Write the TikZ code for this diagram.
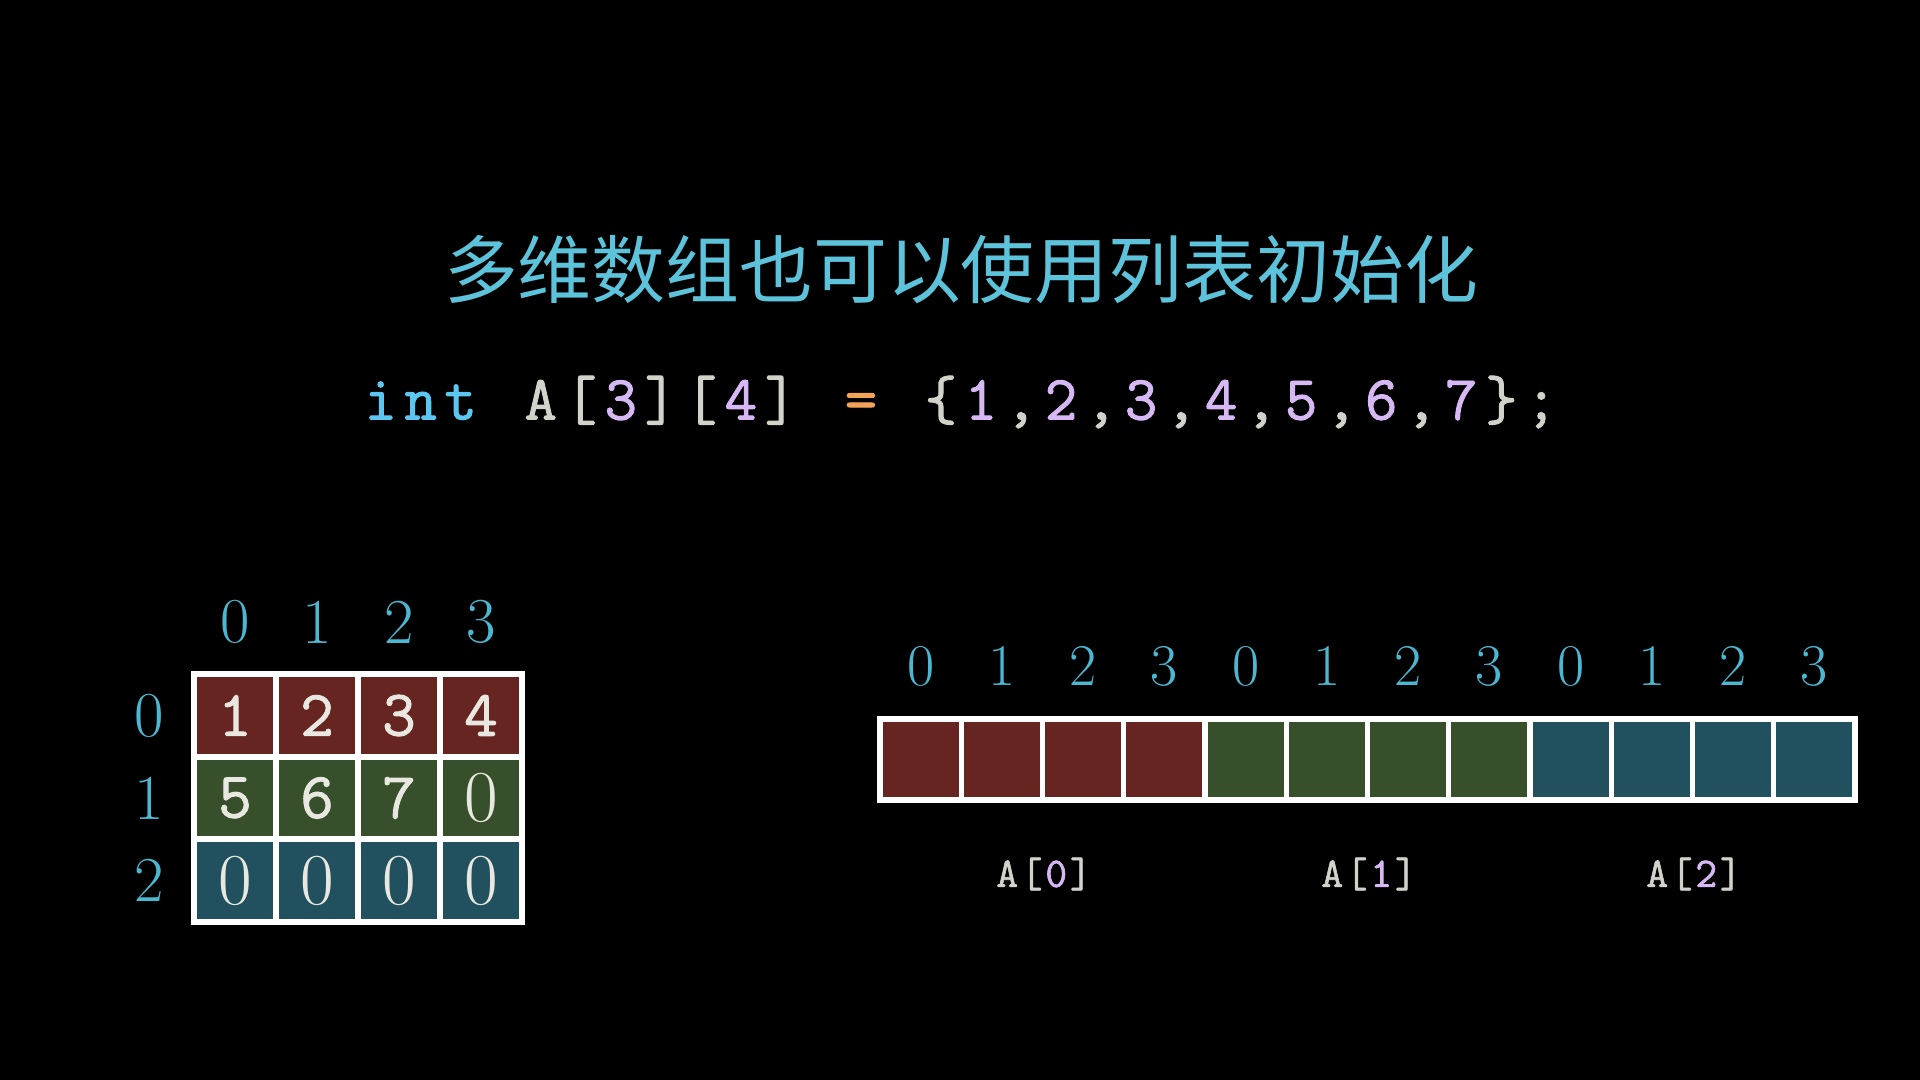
\documentclass[tikz,border=0pt]{standalone}
\usepackage{fontspec}
\newfontfamily\cjk{Noto Sans CJK SC}
\newfontfamily\codefont{Latin Modern Mono}[FakeBold=1.5]
\definecolor{cred}{HTML}{662521}
\definecolor{cgreen}{HTML}{37502B}
\definecolor{cteal}{HTML}{21505E}
\definecolor{clbl}{HTML}{4BB8D2}
\definecolor{ctitle}{HTML}{5CC3DA}
\definecolor{cint}{HTML}{5BC6F2}
\definecolor{cgrey}{HTML}{D2D2CA}
\definecolor{cnum}{HTML}{D6B8F4}
\definecolor{corange}{HTML}{F2A35A}
\definecolor{cwhite}{HTML}{E8E8E0}
% one monospaced character in a fixed-width box
\newcommand\codech[2]{\makebox[0.40cm]{\textcolor{#1}{#2}}}
\newcommand\lblch[2]{\makebox[0.245cm]{\textcolor{#1}{#2}}}
\tikzset{
  gridcell/.style={draw=white, line width=1.7pt, inner sep=0pt,
    minimum width=0.82cm, minimum height=0.825cm, text=cwhite},
  arrcell/.style={draw=white, line width=1.5pt, inner sep=0pt,
    minimum width=0.8125cm, minimum height=0.81cm},
  idxbig/.style={text=clbl, inner sep=0pt, font=\fontsize{18.2}{20}\selectfont},
  idxsmall/.style={text=clbl, inner sep=0pt, font=\fontsize{16.8}{19}\selectfont},
  monodigit/.style={font=\codefont\fontsize{18.5}{20}\selectfont},
  serifzero/.style={font=\fontsize{20.8}{22}\selectfont},
  rowlbl/.style={inner sep=0pt, font=\codefont\fontsize{12}{14}\selectfont}
}
\begin{document}
\begin{tikzpicture}[x=0.01cm,y=-0.01cm]
\fill[black] (0,0) rectangle (1920,1080);
\useasboundingbox (0,0) rectangle (1920,1080);

% title
\node[text=ctitle, inner sep=0pt] (title) at (961,270)
  {\cjk\fontsize{21}{24}\selectfont 多维数组也可以使用列表初始化};

% code line
\node[inner sep=0pt] (code) at (961,402) {\codefont\fontsize{17.9}{20}\selectfont
  \codech{cint}{i}\codech{cint}{n}\codech{cint}{t}\codech{cgrey}{ }%
  \codech{cgrey}{A}\codech{cgrey}{[}\codech{cnum}{3}\codech{cgrey}{]}%
  \codech{cgrey}{[}\codech{cnum}{4}\codech{cgrey}{]}\codech{cgrey}{ }%
  \codech{corange}{=}\codech{cgrey}{ }\codech{cgrey}{\{}%
  \codech{cnum}{1}\codech{cgrey}{,}\codech{cnum}{2}\codech{cgrey}{,}%
  \codech{cnum}{3}\codech{cgrey}{,}\codech{cnum}{4}\codech{cgrey}{,}%
  \codech{cnum}{5}\codech{cgrey}{,}\codech{cnum}{6}\codech{cgrey}{,}%
  \codech{cnum}{7}\codech{cgrey}{\}}\codech{cgrey}{;}};

% left grid
\node[gridcell, fill=cred, monodigit] (g00) at (235,715.5) {1};
\node[gridcell, fill=cred, monodigit] (g01) at (317,715.5) {2};
\node[gridcell, fill=cred, monodigit] (g02) at (399,715.5) {3};
\node[gridcell, fill=cred, monodigit] (g03) at (481,715.5) {4};
\node[gridcell, fill=cgreen, monodigit] (g10) at (235,798) {5};
\node[gridcell, fill=cgreen, monodigit] (g11) at (317,798) {6};
\node[gridcell, fill=cgreen, monodigit] (g12) at (399,798) {7};
\node[gridcell, fill=cgreen, serifzero] (g13) at (481,798) {0};
\node[gridcell, fill=cteal, serifzero] (g20) at (235,880.5) {0};
\node[gridcell, fill=cteal, serifzero] (g21) at (317,880.5) {0};
\node[gridcell, fill=cteal, serifzero] (g22) at (399,880.5) {0};
\node[gridcell, fill=cteal, serifzero] (g23) at (481,880.5) {0};

% left grid indices
\foreach \i in {0,1,2,3} {
  \node[idxbig] (gc\i) at (235+82*\i,622) {\i};
}
\foreach \j in {0,1,2} {
  \node[idxbig] (gr\j) at (149,715.5+82.5*\j) {\j};
}

% right array
\foreach \k/\c in {0/cred,1/cred,2/cred,3/cred,4/cgreen,5/cgreen,6/cgreen,7/cgreen,8/cteal,9/cteal,10/cteal,11/cteal} {
  \node[arrcell, fill=\c] (a\k) at (920.6+81.25*\k,759.5) {};
}
\foreach \k/\l in {0/0,1/1,2/2,3/3,4/0,5/1,6/2,7/3,8/0,9/1,10/2,11/3} {
  \node[idxsmall] (ai\k) at (920.6+81.25*\k,666) {\l};
}

% row labels under array
\node[rowlbl] (r0) at (1044,874) {\lblch{cgrey}{A}\lblch{cgrey}{[}\lblch{cnum}{0}\lblch{cgrey}{]}};
\node[rowlbl] (r1) at (1369,874) {\lblch{cgrey}{A}\lblch{cgrey}{[}\lblch{cnum}{1}\lblch{cgrey}{]}};
\node[rowlbl] (r2) at (1694,874) {\lblch{cgrey}{A}\lblch{cgrey}{[}\lblch{cnum}{2}\lblch{cgrey}{]}};
\end{tikzpicture}
\end{document}
